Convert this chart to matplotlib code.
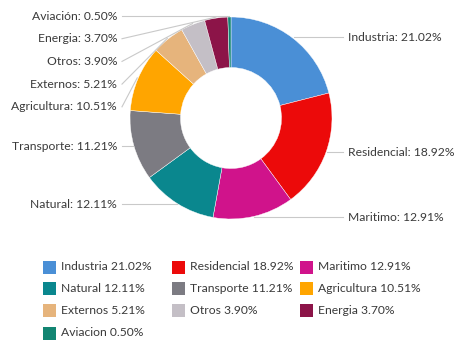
import numpy as np
import matplotlib
matplotlib.use("Agg")
from matplotlib import pyplot as plt
from matplotlib.patches import Rectangle

sectors = ["Industria", "Residencial", "Maritimo", "Natural", "Transporte",
           "Agricultura", "Externos", "Otros", "Energia", "Aviación"]
legend_names = ["Industria", "Residencial", "Maritimo", "Natural", "Transporte",
                "Agricultura", "Externos", "Otros", "Energia", "Aviacion"]
shares = [21.02, 18.92, 12.91, 12.11, 11.21, 10.51, 5.21, 3.90, 3.70, 0.50]
colors = ["#4a8fd6", "#ec0a0a", "#d0138b", "#0a878e", "#7c7b82",
          "#ffa500", "#e6b47c", "#c4bfc6", "#8c1448", "#128572"]

W, H = 461, 350
plt.rcParams['font.family'] = ['Lato', 'DejaVu Sans']
TXT = '#3a3a3a'
FS = 8.7

fig = plt.figure(figsize=(W / 100, H / 100), dpi=100)
ax = fig.add_axes([0, 0, 1, 1])

def py(y):
    # work in pixel rows measured from the top
    return H - y

cx, cy, R = 231, 118, 101
ax.pie(shares, colors=colors, startangle=90, counterclock=False,
       center=(cx, py(cy)), radius=R,
       wedgeprops=dict(width=R * 0.5, edgecolor='white', linewidth=0.3))
ax.set_xlim(0, W)
ax.set_ylim(0, H)
ax.set_aspect('equal')
ax.axis('off')

# leader lines and outside labels
total = sum(shares)
cum = np.cumsum([0] + shares[:-1])
mids = np.radians(90 - (cum + np.array(shares) / 2) / total * 360)
left, right = [], []
for i, a in enumerate(mids):
    ex, ey = cx + (R + 1) * np.cos(a), cy - (R + 1) * np.sin(a)
    (right if np.cos(a) >= 0 else left).append([i, ex, ey, ey])

# push labels apart so they don't overlap
gap = 22.7
for group in (left, right):
    group.sort(key=lambda t: t[3])
    for k in range(1, len(group)):
        if group[k][3] < group[k - 1][3] + gap:
            group[k][3] = group[k - 1][3] + gap

for i, ex, ey, ly in right:
    ax.plot([ex, 343], [py(ey), py(ly)], color='#c9c9c9', lw=0.8)
    ax.text(348, py(ly), f"{sectors[i]}: {shares[i]:.2f}%", ha='left',
            va='center', fontsize=FS, color=TXT)
for i, ex, ey, ly in left:
    ax.plot([122, ex], [py(ly), py(ey)], color='#c9c9c9', lw=0.8)
    ax.text(117, py(ly), f"{sectors[i]}: {shares[i]:.2f}%", ha='right',
            va='center', fontsize=FS, color=TXT)

# legend laid out row by row, three per row
col_x = [43, 172, 300]
row_y = [267, 288, 310, 333]
for i, name in enumerate(legend_names):
    x, y = col_x[i % 3], row_y[i // 3]
    ax.add_patch(Rectangle((x, py(y) - 6.5), 13, 13, color=colors[i], lw=0))
    ax.text(x + 17.5, py(y), f"{name} {shares[i]:.2f}%", ha='left', va='center',
            fontsize=FS, color=TXT)

fig.savefig('out.png', dpi=100)
